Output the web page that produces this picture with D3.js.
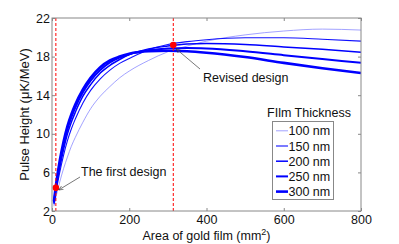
<!DOCTYPE html>
<html>
<head>
<meta charset="utf-8">
<script src="https://cdn.jsdelivr.net/npm/d3@7"></script>
<style>
	body { margin: 0; background: #fff; }
	svg text { font-family: "Liberation Sans", Arial, sans-serif; fill: #111; }
</style>
</head>
<body>
<div id="chart"></div>
<script>
// Pulse height vs area of gold film, one curve per film thickness

const areas = [5, 10, 20, 30, 40, 50, 60, 80, 100, 125, 150, 175, 200, 250, 300, 350, 400, 500, 600, 700, 800];

const h100 = [2.5, 3.4, 5.0, 6.4, 7.6, 8.7, 9.6, 11.2, 12.6, 13.9, 14.9, 15.8, 16.5, 17.6, 18.5, 19.1, 19.6, 20.25, 20.65, 20.85, 20.75];
const h150 = [2.7, 3.9, 6.0, 7.8, 9.3, 10.5, 11.5, 13.2, 14.5, 15.7, 16.6, 17.3, 17.8, 18.7, 19.25, 19.55, 19.75, 19.95, 19.95, 19.8, 19.6];
const h200 = [2.8, 4.2, 6.5, 8.4, 10.0, 11.2, 12.2, 13.9, 15.1, 16.3, 17.1, 17.7, 18.2, 18.8, 19.1, 19.3, 19.35, 19.25, 19.0, 18.75, 18.45];
const h250 = [2.9, 4.4, 6.9, 8.9, 10.5, 11.7, 12.7, 14.3, 15.5, 16.6, 17.4, 17.9, 18.25, 18.65, 18.85, 18.9, 18.85, 18.55, 18.15, 17.75, 17.35];
const h300 = [3.0, 4.6, 7.2, 9.2, 10.8, 12.0, 13.0, 14.6, 15.8, 16.9, 17.6, 18.0, 18.3, 18.55, 18.6, 18.55, 18.4, 17.95, 17.35, 16.8, 16.3];

const thickLabels = ["100 nm", "150 nm", "200 nm", "250 nm", "300 nm"];
const seriesValues = [h100, h150, h200, h250, h300];

const designAreas = [10, 314];
const designHeights = [4.4, 19.2];

const xTicks = [0, 200, 400, 600, 800];
const yTicks = [2, 6, 10, 14, 18, 22];

const width = 399, height = 244;
const margin = {top: 18, right: 38, bottom: 33, left: 52};

let svg = d3.select("#chart")
	.append("svg")
	.attr("width", width)
	.attr("height", height)
	.attr("viewBox", [0, 0, width, height]);

let x = d3.scaleLinear()
	.domain([0, 800])
	.range([margin.left, width - margin.right]);

let y = d3.scaleLinear()
	.domain([2, 22])
	.range([height - margin.bottom, margin.top]);

const widths = [0.7, 1.1, 1.5, 2.0, 2.6];
const colors = ["#7a7aff", "#1010ff", "#0000ff", "#0000ff", "#0000ff"];

svg.append("defs").append("clipPath")
	.attr("id", "plot-clip")
	.append("rect")
	.attr("x", x(0)).attr("y", y(22))
	.attr("width", x(800) - x(0)).attr("height", y(2) - y(22));

svg.append("defs").append("marker")
	.attr("id", "arrow")
	.attr("viewBox", "0 0 10 10")
	.attr("refX", 9).attr("refY", 5)
	.attr("markerWidth", 6).attr("markerHeight", 6)
	.attr("orient", "auto")
	.append("path")
	.attr("d", "M0,1L10,5L0,9")
	.attr("fill", "none")
	.attr("stroke", "#333")
	.attr("stroke-width", 1.2);

// axes with inward ticks, like a matlab box
let tickStyle = g => g
	.call(g => g.select(".domain").remove())
	.call(g => g.selectAll(".tick line").attr("stroke", "#888"))
	.call(g => g.selectAll(".tick text").attr("font-size", 12.5).attr("fill", "#111"));

svg.append("g")
	.attr("transform", `translate(0,${y(2)})`)
	.call(d3.axisBottom(x).tickValues(xTicks).tickSize(-3).tickPadding(4))
	.call(tickStyle);

svg.append("g")
	.attr("transform", `translate(${x(0)},0)`)
	.call(d3.axisLeft(y).tickValues(yTicks).tickSize(-3).tickPadding(2))
	.call(tickStyle);

svg.append("g")
	.attr("transform", `translate(0,${y(22)})`)
	.call(d3.axisTop(x).tickValues(xTicks).tickSize(-3).tickFormat(""))
	.call(tickStyle);

svg.append("g")
	.attr("transform", `translate(${x(800)},0)`)
	.call(d3.axisRight(y).tickValues(yTicks).tickSize(-3).tickFormat(""))
	.call(tickStyle);

let line = d3.line()
	.curve(d3.curveMonotoneX)
	.x((d, i) => x(areas[i]))
	.y(d => y(d));

svg.append("g")
	.attr("clip-path", "url(#plot-clip)")
	.selectAll("path")
	.data(seriesValues)
	.join("path")
	.attr("d", line)
	.attr("fill", "none")
	.attr("stroke", (d, i) => colors[i])
	.attr("stroke-width", (d, i) => widths[i])
	.attr("stroke-linejoin", "round");

// design markers
svg.append("g")
	.selectAll("line")
	.data(designAreas)
	.join("line")
	.attr("x1", d => x(d)).attr("x2", d => x(d))
	.attr("y1", y(22)).attr("y2", y(2))
	.attr("stroke", "#ff0000")
	.attr("stroke-width", 1)
	.attr("stroke-dasharray", "3,2");

svg.append("g")
	.selectAll("circle")
	.data(designAreas)
	.join("circle")
	.attr("cx", d => x(d))
	.attr("cy", (d, i) => y(designHeights[i]))
	.attr("r", 3.3)
	.attr("fill", "#ff0000");

// border
svg.append("rect")
	.attr("x", x(0)).attr("y", y(22))
	.attr("width", x(800) - x(0)).attr("height", y(2) - y(22))
	.attr("fill", "none")
	.attr("stroke", "#888");

// annotations
svg.append("line")
	.attr("x1", 80).attr("y1", 177)
	.attr("x2", x(designAreas[0]) + 3).attr("y2", y(designHeights[0]) + 2)
	.attr("stroke", "#555").attr("stroke-width", 0.8)
	.attr("marker-end", "url(#arrow)");
svg.append("text")
	.attr("x", 81).attr("y", 176)
	.attr("font-size", 12.5)
	.text("The first design");

svg.append("line")
	.attr("x1", 200).attr("y1", 69)
	.attr("x2", x(designAreas[1]) + 3).attr("y2", y(designHeights[1]) + 4)
	.attr("stroke", "#555").attr("stroke-width", 0.8)
	.attr("marker-end", "url(#arrow)");
svg.append("text")
	.attr("x", 203).attr("y", 82)
	.attr("font-size", 12.5)
	.text("Revised design");

// axis labels
let xl = svg.append("text")
	.attr("x", (x(0) + x(800)) / 2)
	.attr("y", 240)
	.attr("text-anchor", "middle")
	.attr("font-size", 12.5);
xl.append("tspan").text("Area of gold film (mm");
xl.append("tspan").attr("font-size", 9).attr("dy", -5).text("2");
xl.append("tspan").attr("dy", 5).text(")");

svg.append("text")
	.attr("transform", `translate(29,${(y(2) + y(22)) / 2}) rotate(-90)`)
	.attr("text-anchor", "middle")
	.attr("font-size", 13)
	.text("Pulse Height (μK/MeV)");

// legend
let legend = svg.append("g");
legend.append("text")
	.attr("x", 309).attr("y", 117)
	.attr("text-anchor", "middle")
	.attr("font-size", 12.5)
	.text("FIlm Thickness");
legend.append("rect")
	.attr("x", 272.5).attr("y", 121.5)
	.attr("width", 61).attr("height", 78)
	.attr("fill", "#fff")
	.attr("stroke", "#888");

let rows = legend.selectAll("g.row")
	.data(thickLabels)
	.join("g")
	.attr("class", "row")
	.attr("transform", (d, i) => `translate(0,${130.8 + i * 15.2})`);
rows.append("line")
	.attr("x1", 276).attr("x2", 288)
	.attr("stroke", (d, i) => colors[i])
	.attr("stroke-width", (d, i) => widths[i]);
rows.append("text")
	.attr("x", 288.5).attr("y", 4.5)
	.attr("font-size", 12.5)
	.text(d => d);
</script>
</body>
</html>
